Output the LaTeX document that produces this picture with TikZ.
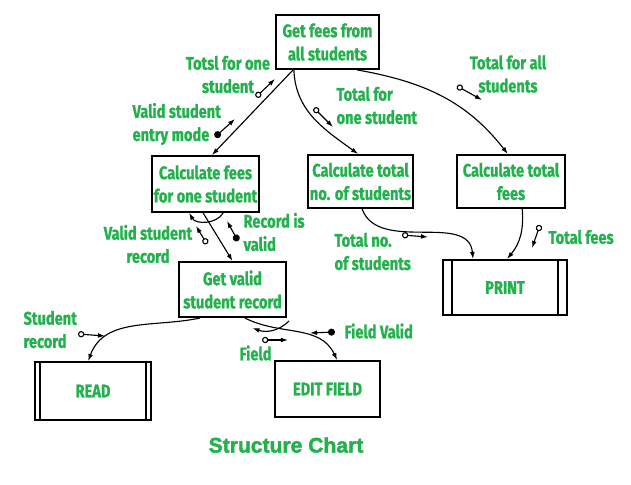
\documentclass[tikz,border=0pt]{standalone}
\usepackage{fontspec}
\setmainfont{Fira Sans}[FakeStretch=0.8, BoldFeatures={FakeBold=1}]
\newfontfamily\titlefont{Liberation Sans}[BoldFeatures={FakeBold=2}]
\usepackage{xcolor}
\usepackage{tikz}
\usetikzlibrary{arrows.meta}
\definecolor{chartgreen}{RGB}{34,177,76}
\tikzset{edge/.style = {->,> = {Latex[length=5pt,width=3.4pt]}}}

\begin{document}
\begin{tikzpicture}[x=0.025cm,y=-0.025cm,line width=0.8pt,
  proc node/.style={draw,line width=1.3pt,align=center,text=chartgreen,font=\fontsize{13}{16.5}\selectfont\bfseries,inner sep=1pt},
  lib node/.style={proc node,path picture={
      \draw[line width=1.2pt] ([xshift=#1]path picture bounding box.north west) -- ([xshift=#1]path picture bounding box.south west)
        ([xshift=-#1]path picture bounding box.north east) -- ([xshift=-#1]path picture bounding box.south east);}},
  tag/.style={text=chartgreen,font=\fontsize{13}{16.5}\selectfont\bfseries,inner sep=0pt},
  couple/.style={edge,{Circle[open,length=4.5pt,width=4.5pt]}->},
  flag/.style={edge,{Circle[length=5pt,width=5pt]}->}]
  \useasboundingbox (0,0) rectangle (631,485);

  % modules
  \node[proc node, minimum width=2.58cm, minimum height=1.35cm] (top) at (327.5,42) {Get fees from\\all students};
  \node[proc node, minimum width=2.68cm, minimum height=1.4cm] (cf) at (205.5,184) {Calculate fees\\for one student};
  \node[proc node, minimum width=2.63cm, minimum height=1.33cm] (cno) at (360.5,181.5) {Calculate total\\no. of students};
  \node[proc node, minimum width=2.7cm, minimum height=1.33cm] (ctf) at (511,181.5) {Calculate total\\fees};
  \node[proc node, minimum width=2.68cm, minimum height=1.38cm] (gv) at (232.5,289.5) {Get valid\\student record};
  \node[lib node=0.22cm, minimum width=3.1cm, minimum height=1.38cm] (print) at (505,287.5) {PRINT};
  \node[lib node=0.13cm, minimum width=2.9cm, minimum height=1.45cm] (read) at (93,391) {READ};
  \node[proc node, minimum width=2.63cm, minimum height=1.4cm] (edit) at (327.5,389) {EDIT FIELD};

  % calls
  \path[edge] ([xshift=-0.86cm]top.south) edge ([xshift=0.16cm]cf.north);
  \path[edge] ([xshift=-0.84cm]top.south) edge[out=-88,in=144] ([xshift=-0.06cm]cno.north);
  \path[edge] ([xshift=0.74cm]top.south) edge[out=-10,in=128] ([xshift=-0.08cm]ctf.north);
  \path[edge] ([xshift=-0.06cm]cf.south) edge (gv.north);
  \path[edge] ([xshift=0.04cm]cno.south) edge[out=-70,in=95] ([xshift=-0.8cm]print.north);
  \path[edge] ([xshift=0.28cm]ctf.south) edge[out=-85,in=50] ([xshift=0.05cm]print.north);
  \path[edge] ([xshift=-0.81cm]gv.south) edge[out=-168,in=70] ([xshift=-0.12cm]read.north);
  \path[edge] ([xshift=0.31cm]gv.south) edge[out=-27,in=115] ([xshift=0.24cm]edit.north);

  % loops
  \path[edge] ([xshift=0.44cm]cf.south) edge[out=-120,in=-60] ([xshift=-0.41cm]cf.south);
  \coordinate (gvLoop) at (289,321);
  \path[edge] (gvLoop) edge[out=-135,in=-20] ([xshift=0.5cm,yshift=-0.25cm]gv.south);

  % couples
  \coordinate (tsA) at (256,97);   \coordinate (tsB) at (275,79);
  \coordinate (vemA) at (215,137); \coordinate (vemB) at (235,119);
  \coordinate (tfoA) at (314,108); \coordinate (tfoB) at (333,127);
  \coordinate (tfaA) at (457,86);  \coordinate (tfaB) at (482,100);
  \coordinate (vsrA) at (207,244); \coordinate (vsrB) at (196,226);
  \coordinate (rivA) at (238,241); \coordinate (rivB) at (227,221);
  \coordinate (tnoA) at (402,235); \coordinate (tnoB) at (428,237);
  \coordinate (tfA) at (540,225);  \coordinate (tfB) at (532,248);
  \coordinate (srA) at (78,334);   \coordinate (srB) at (105,336);
  \coordinate (fvA) at (335,332);  \coordinate (fvB) at (310,333);
  \coordinate (fdA) at (262,340);  \coordinate (fdB) at (288,340);
  \path[couple] (tsA) edge (tsB) (tfoA) edge (tfoB) (tfaA) edge (tfaB)
     (vsrA) edge (vsrB) (tnoA) edge (tnoB) (tfA) edge (tfB) (srA) edge (srB) (fdA) edge (fdB);
  \path[flag] (vemA) edge (vemB) (rivA) edge (rivB) (fvA) edge (fvB);

  % labels
  \node[tag, align=center] (tsL) at (228,74.5) {Totsl for one\\student};
  \node[tag, align=left, anchor=west] (vemL) at (132,124) {Valid student\\entry mode};
  \node[tag, align=left, anchor=west] (tfoL) at (336,105.5) {Total for\\one student};
  \node[tag, align=center] (tfaL) at (508,74) {Total for all\\students};
  \node[tag, align=center] (vsrL) at (148,244) {Valid student\\record};
  \node[tag, align=left, anchor=west] (rivL) at (243,232) {Record is\\valid};
  \node[tag, align=left, anchor=west] (tnoL) at (334,251.5) {Total no.\\of students};
  \node[tag, anchor=west] (tfL) at (548,237) {Total fees};
  \node[tag, align=left, anchor=west] (srL) at (23,329.5) {Student\\record};
  \node[tag, anchor=west] (fvL) at (344,331) {Field Valid};
  \node[tag, anchor=west] (fdL) at (239,353) {Field};

  \node[text=chartgreen, font=\titlefont\fontsize{15}{18}\selectfont\bfseries] (title) at (286,445) {Structure Chart};
\end{tikzpicture}
\end{document}
